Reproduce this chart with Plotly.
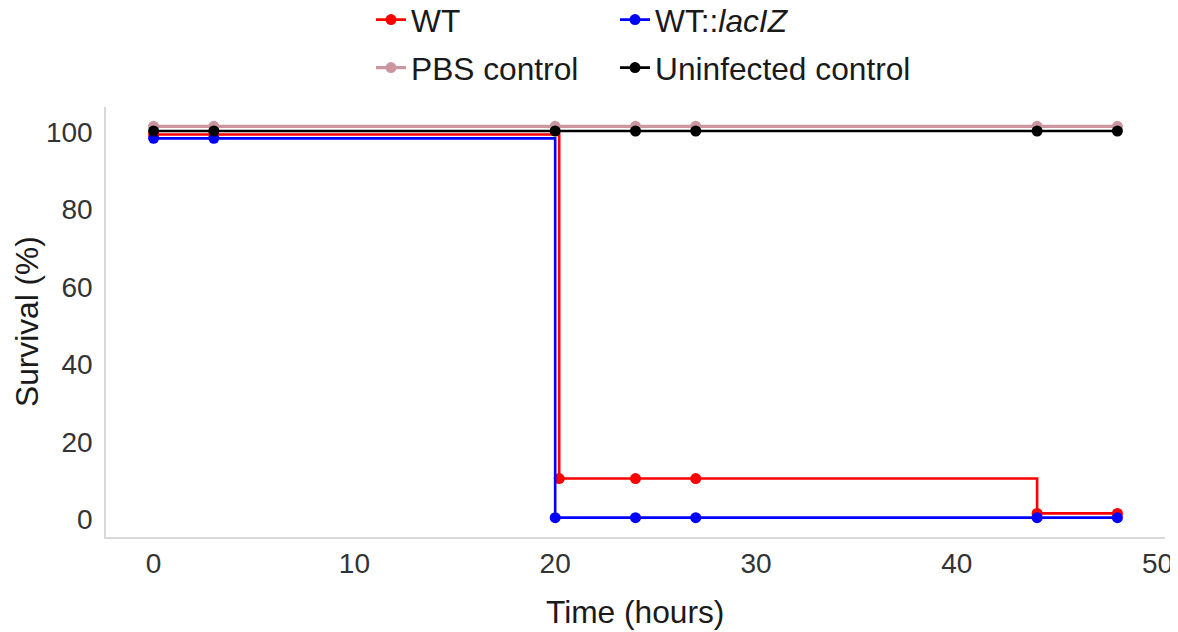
import plotly.graph_objects as go

# Data (small vertical offsets as drawn)
time_wt = [0, 3, 20.2, 24, 27, 44, 48]
surv_wt = [99.4, 99.4, 10.5, 10.5, 10.5, 1.5, 1.5]

time_lac = [0, 3, 20, 24, 27, 44, 48]
surv_lac = [98.4, 98.4, 0.4, 0.4, 0.4, 0.4, 0.4]

time_pbs = [0, 3, 20, 24, 27, 44, 48]
surv_pbs = [101.5, 101.5, 101.5, 101.5, 101.5, 101.5, 101.5]

time_uninf = [0, 3, 20, 24, 27, 44, 48]
surv_uninf = [100.3, 100.3, 100.3, 100.3, 100.3, 100.3, 100.3]

x_ticks = [0, 10, 20, 30, 40, 50]
y_ticks = [0, 20, 40, 60, 80, 100]

FONT = "Liberation Sans, Arial, sans-serif"
FS_TXT = 31.7
FS_TICK = 28
# page body has an 8px margin, so the figure is drawn 8px in from the window edge
W, H = 1170, 624
L, R, T, B = 98, 13, 99, 95
PW = W - L - R
PH = H - T - B

fig = go.Figure()
fig.add_trace(go.Scatter(x=time_pbs, y=surv_pbs, mode="lines+markers", name="PBS control",
                         line=dict(color="#CC96A0", width=3.2, shape="hv"),
                         marker=dict(color="#CC96A0", size=11), legend="legend3"))
fig.add_trace(go.Scatter(x=time_wt, y=surv_wt, mode="lines+markers", name="WT",
                         line=dict(color="#FF0000", width=2.6, shape="hv"),
                         marker=dict(color="#FF0000", size=11), legend="legend"))
fig.add_trace(go.Scatter(x=time_lac, y=surv_lac, mode="lines+markers", name="WT::<i>lacIZ</i>",
                         line=dict(color="#0000FF", width=2.6, shape="hv"),
                         marker=dict(color="#0000FF", size=11), legend="legend2"))
fig.add_trace(go.Scatter(x=time_uninf, y=surv_uninf, mode="lines+markers", name="Uninfected control",
                         line=dict(color="#000000", width=2.6, shape="hv"),
                         marker=dict(color="#000000", size=11), legend="legend4"))


def leg(xpx, ypx):
    return dict(orientation="h", xref="paper", yref="container", xanchor="left", yanchor="middle",
                x=(xpx - L) / PW, y=1 - ypx / H,
                font=dict(family=FONT, size=FS_TXT, color="#1a1a1a"),
                bgcolor="rgba(0,0,0,0)", itemclick=False, itemdoubleclick=False)


fig.update_layout(
    width=W, height=H,
    paper_bgcolor="white", plot_bgcolor="white",
    margin=dict(l=L, r=R, t=T, b=B),
    font=dict(family=FONT, size=FS_TXT, color="#1a1a1a"),
    showlegend=True,
    legend=leg(363, 12),
    legend2=leg(607, 12),
    legend3=leg(363, 60),
    legend4=leg(607, 60),
    xaxis=dict(range=[-2.37, 50.37], tickvals=x_ticks, ticktext=[str(v) for v in x_ticks],
               showgrid=False, zeroline=False, showline=True, linecolor="#d9d9d9", linewidth=1.5,
               ticks="", automargin=False, ticklabelstandoff=1,
               tickfont=dict(family=FONT, size=FS_TICK, color="#333333")),
    yaxis=dict(range=[-4.6, 106.5], tickvals=y_ticks, ticktext=[str(v) for v in y_ticks],
               showgrid=False, zeroline=False, showline=True, linecolor="#d9d9d9", linewidth=1.5,
               ticks="", automargin=False, ticklabelstandoff=6,
               tickfont=dict(family=FONT, size=FS_TICK, color="#333333")),
    annotations=[
        dict(text="Time (hours)", xref="paper", yref="paper",
             x=(627 - L) / PW, y=(H - B - 604) / PH, xanchor="center", yanchor="middle",
             showarrow=False, font=dict(family=FONT, size=FS_TXT, color="#1a1a1a")),
        dict(text="Survival (%)", xref="paper", yref="paper", textangle=-90,
             x=(19 - L) / PW, y=0.5, xanchor="center", yanchor="middle",
             showarrow=False, font=dict(family=FONT, size=FS_TXT, color="#1a1a1a")),
    ],
)

fig.write_html("out.html")
